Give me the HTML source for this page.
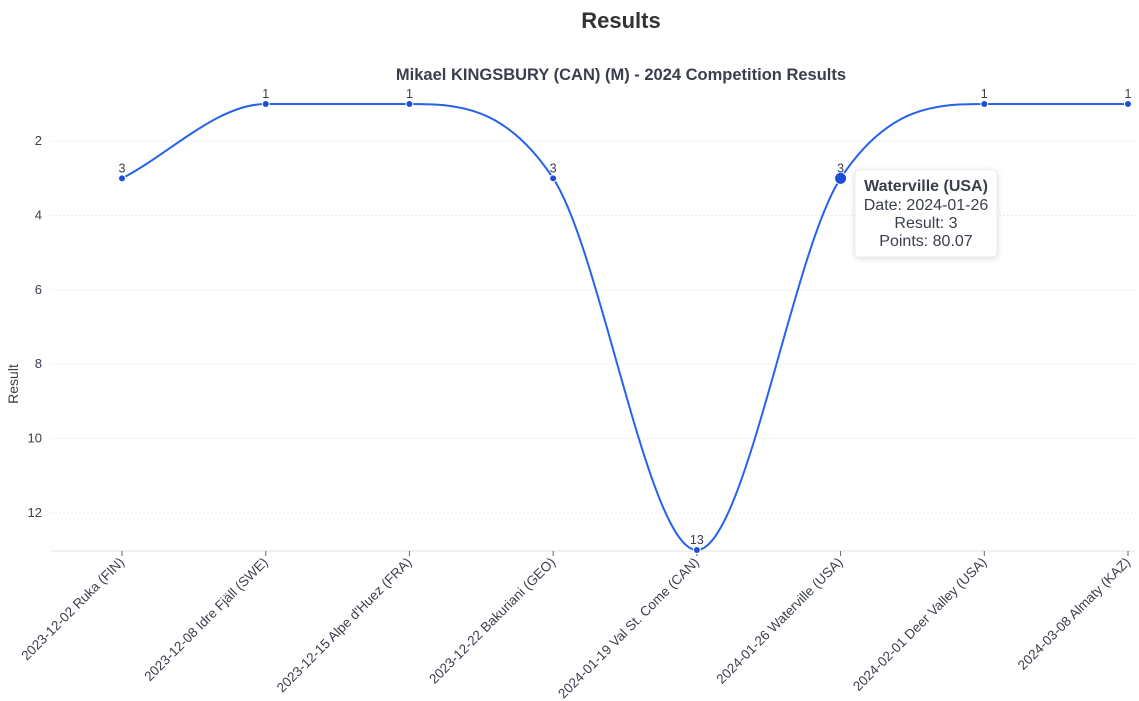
<!DOCTYPE html>
<html><head><meta charset="utf-8"><style>
body{margin:0;background:#fff;}
svg{display:block;font-family:"Liberation Sans","DejaVu Sans",sans-serif;}
</style></head><body>
<svg id="chart" width="1139" height="701" viewBox="0 0 1139 701">
<text x="621" y="28" text-anchor="middle" font-size="22" font-weight="bold" fill="#333">Results</text>
<text x="621" y="80" text-anchor="middle" font-size="16.5" font-weight="bold" fill="#3a3f4b">Mikael KINGSBURY (CAN) (M) - 2024 Competition Results</text>
<text transform="translate(18,384) rotate(-90)" text-anchor="middle" font-size="14" fill="#3a3f4b">Result</text>
<g id="grid"></g><g id="xaxis"></g><g id="series"></g>
<g>
<rect x="855" y="170" width="142" height="87" rx="4" fill="#fff" stroke="#eee" style="filter:drop-shadow(0 1px 3px rgba(0,0,0,0.15))"/>
<text x="926" y="191" text-anchor="middle" font-size="16" font-weight="bold" fill="#3a3f4b">Waterville (USA)</text>
<text x="926" y="210" text-anchor="middle" font-size="16" fill="#3a3f4b">Date: 2024-01-26</text>
<text x="926" y="228" text-anchor="middle" font-size="16" fill="#3a3f4b">Result: 3</text>
<text x="926" y="246" text-anchor="middle" font-size="16" fill="#3a3f4b">Points: 80.07</text>
</g>
</svg>
<script>
const categories=["2023-12-02 Ruka (FIN)","2023-12-08 Idre Fjäll (SWE)","2023-12-15 Alpe d'Huez (FRA)","2023-12-22 Bakuriani (GEO)","2024-01-19 Val St. Come (CAN)","2024-01-26 Waterville (USA)","2024-02-01 Deer Valley (USA)","2024-03-08 Almaty (KAZ)"];
const results=[3,1,1,3,13,3,1,1];
const yTicks=[2,4,6,8,10,12];
const NS="http://www.w3.org/2000/svg";
const x0=122,x1=1128,yTop=104,yBot=550,yMin=1,yMax=13;
function xs(i){return x0+i*(x1-x0)/(categories.length-1);}
function ys(v){return yTop+(v-yMin)*(yBot-yTop)/(yMax-yMin);}
function mk(tag,attrs,parent){const e=document.createElementNS(NS,tag);for(const k in attrs)e.setAttribute(k,attrs[k]);parent.appendChild(e);return e;}
const grid=document.getElementById('grid'),xa=document.getElementById('xaxis'),ser=document.getElementById('series');
yTicks.forEach(t=>{
 const l=mk('line',{x1:51,x2:1139,y1:ys(t),y2:ys(t),stroke:'#ececec','stroke-dasharray':'2,2'},grid);
 
 
 const tx=mk('text',{x:42,y:ys(t)+4,'text-anchor':'end','font-size':13,fill:'#3a3f4b'},grid);
 tx.textContent=t;
 
 
});
const ax=mk('line',{x1:51,x2:1135,y1:551,y2:551,stroke:'#e0e0e0'},xa);


categories.forEach((c,i)=>{
 const tk=mk('line',{x1:xs(i),x2:xs(i),y1:551,y2:556,stroke:'#666'},xa);
 
 
 const t=mk('text',{transform:`translate(${xs(i)+3},${563}) rotate(-45)`,'text-anchor':'end','font-size':13.5,fill:'#3a3f4b'},xa);
 t.textContent=c;
 
 
});
const px=results.map((v,i)=>xs(i)),py=results.map(v=>ys(v));
const n=px.length,d=[],m=[];
for(let i=0;i<n-1;i++)d.push((py[i+1]-py[i])/(px[i+1]-px[i]));
m[0]=d[0];m[n-1]=d[n-2];
for(let i=1;i<n-1;i++){if(d[i-1]*d[i]<=0)m[i]=0;else{m[i]=(d[i-1]+d[i])/2;const a=m[i]/d[i-1],b=m[i]/d[i];const s=a*a+b*b;if(s>9){const t=3/Math.sqrt(s);m[i]=t*a*d[i-1];}}}
if(d[0]===0)m[0]=0;if(d[n-2]===0)m[n-1]=0;
let p=`M${px[0]},${py[0]}`;
for(let i=0;i<n-1;i++){const h=(px[i+1]-px[i])/3;p+=` C${px[i]+h},${py[i]+m[i]*h} ${px[i+1]-h},${py[i+1]-m[i+1]*h} ${px[i+1]},${py[i+1]}`;}
const line=mk('path',{d:p,fill:'none',stroke:'#2563eb','stroke-width':2},ser);


results.forEach((v,i)=>{
 const c=mk('circle',{cx:px[i],cy:py[i],r:i===5?6:3.5,fill:'#1d4ed8',stroke:'#fff','stroke-width':1},ser);
 
 
 const t=mk('text',{x:px[i],y:py[i]-6,'text-anchor':'middle','font-size':12.5,fill:'#3a3f4b'},ser);
 t.textContent=v;
 
 
});
</script>
</body></html>
